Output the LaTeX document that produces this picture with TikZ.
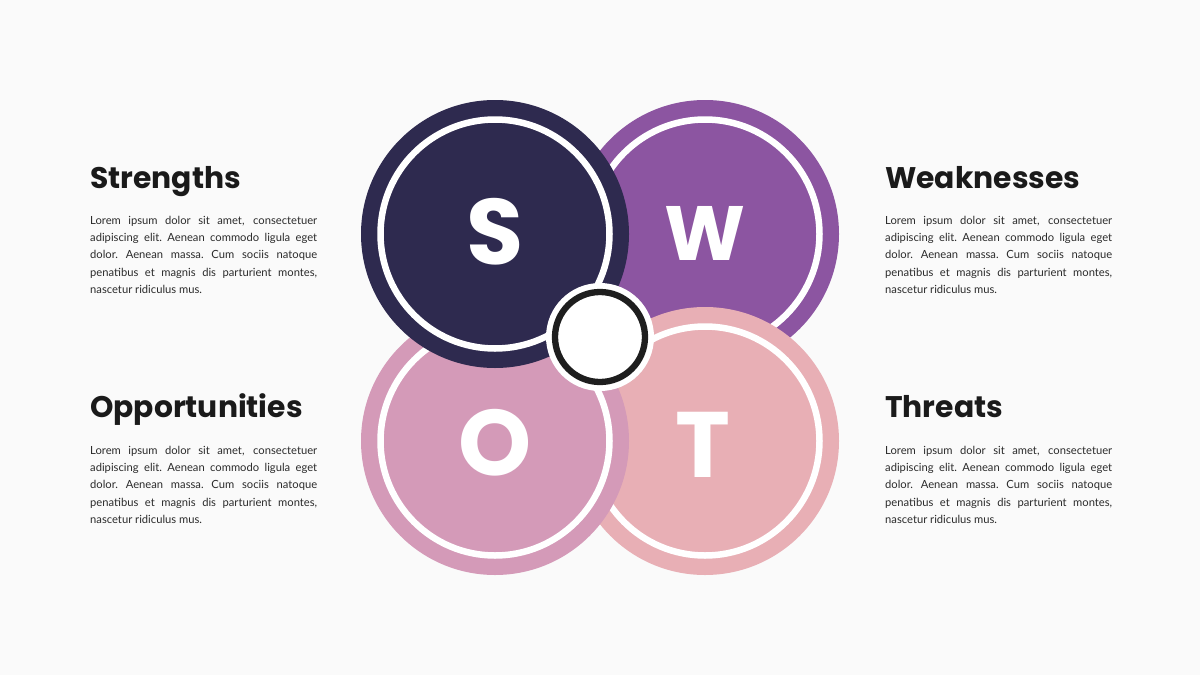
\documentclass[tikz,border=0pt]{standalone}
\usepackage{fontspec}
\setmainfont{Lato}
\newfontfamily\popfont{Poppins}
\definecolor{bgc}{HTML}{FAFAFA}
\definecolor{sc}{HTML}{2E2A4F}
\definecolor{wc}{HTML}{8C55A1}
\definecolor{oc}{HTML}{D49AB8}
\definecolor{tc}{HTML}{E8AFB5}
\definecolor{ink}{HTML}{1A1A1A}
\definecolor{bodyc}{HTML}{2B2B2B}
\definecolor{ringc}{HTML}{1E1E1E}
\newcommand\loremlines{%
\makebox[227pt][s]{Lorem ipsum dolor sit amet, consectetuer}\\
\makebox[227pt][s]{adipiscing elit.\ Aenean commodo ligula eget}\\
\makebox[227pt][s]{dolor.\ Aenean massa.\ Cum sociis natoque}\\
\makebox[227pt][s]{penatibus et magnis dis parturient montes,}\\
nascetur ridiculus mus.}
\begin{document}
\begin{tikzpicture}[x=1pt,y=-1pt,
  bigdisc/.style={circle, inner sep=0pt, minimum size=268pt},
  whitering/.style={draw=white, line width=6.5pt},
  letter/.style={text=white, inner sep=0pt, font=\popfont\bfseries\fontsize{93}{93}\selectfont},
  title/.style={anchor=base west, inner sep=0pt, text=ink, font=\popfont\bfseries\fontsize{29.8}{29.8}\selectfont},
  bodytext/.style={anchor=north west, inner sep=0pt, text width=227pt, align=justify, text=bodyc, font=\fontsize{11.2}{17.2}\selectfont}]
\fill[bgc] (0,0) rectangle (1200,675);
\useasboundingbox (0,0) rectangle (1200,675);
% W
\node[bigdisc, fill=wc] (W) at (705,234) {};
\draw[whitering] (W.center) circle[radius=114.5pt];
\node[letter, font=\popfont\bfseries\fontsize{77}{77}\selectfont] (Wl) at (705,233) {W};
% T
\node[bigdisc, fill=tc] (T) at (705,441) {};
\draw[whitering] (T.center) circle[radius=114.5pt];
\node[letter] (Tl) at (703,445) {T};
% O
\node[bigdisc, fill=oc] (O) at (495,441) {};
\draw[whitering] (O.center) circle[radius=114.5pt];
\node[letter] (Ol) at (495,443) {O};
% S
\node[bigdisc, fill=sc] (S) at (495,234) {};
\draw[whitering] (S.center) circle[radius=114.5pt];
\node[letter] (Sl) at (495,232) {S};
% centre
\node[circle, fill=white, inner sep=0pt, minimum size=108pt] (C) at (600,337) {};
\draw[ringc, line width=6.3pt] (C.center) circle[radius=45pt];
% texts
\node[title] (t1) at (90,188) {Strengths};
\node[bodytext] (b1) at (90,216) {\loremlines};
\node[title] (t2) at (885,188) {Weaknesses};
\node[bodytext] (b2) at (885,216) {\loremlines};
\node[title] (t3) at (90,417) {Opportunities};
\node[bodytext] (b3) at (90,446) {\loremlines};
\node[title] (t4) at (885,417) {Threats};
\node[bodytext] (b4) at (885,446) {\loremlines};
\end{tikzpicture}
\end{document}
